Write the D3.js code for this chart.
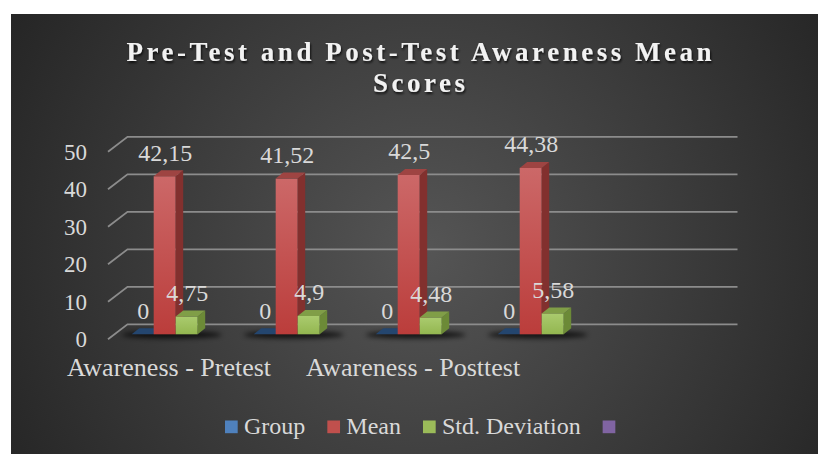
<!DOCTYPE html>
<html>
<head>
<meta charset="utf-8">
<script src="https://cdn.jsdelivr.net/npm/d3@7"></script>
<style>
  html, body { margin: 0; padding: 0; background: #fff; }
  svg { display: block; }
</style>
</head>
<body>
<script>
'use strict';

// chart data
const categories = ["Awareness - Pretest", "", "Awareness - Posttest", "", ""];
const seriesNames = ["Group", "Mean", "Std. Deviation", ""];
const seriesColors = ["#4f81bd", "#c0504d", "#9bbb59", "#8064a2"];
const groupValues = [0, 0, 0, 0];
const meanValues = [42.15, 41.52, 42.5, 44.38];
const sdValues = [4.75, 4.9, 4.48, 5.58];
const yTicks = [0, 10, 20, 30, 40, 50];
const titleLines = ["Pre-Test and Post-Test Awareness Mean", "Scores"];

const seriesValues = [groupValues, meanValues, sdValues];
const W = 818, H = 454;
const FONT = "'Liberation Serif', 'Times New Roman', serif";

// 3d offsets relative to the plane the bars stand on
const back = { dx: 13, dy: -10 };
const front = { dx: -6.5, dy: 5 };
const depth = { dx: 7.5, dy: -6 };

const svg = d3.select('body').append('svg')
  .attr('width', W)
  .attr('height', H);

const defs = svg.append('defs');

// background gradient
const bg = defs.append('radialGradient')
  .attr('id', 'bg')
  .attr('gradientUnits', 'userSpaceOnUse')
  .attr('cx', 425).attr('cy', 250).attr('r', 480);
bg.append('stop').attr('offset', '0%').attr('stop-color', '#555555');
bg.append('stop').attr('offset', '100%').attr('stop-color', '#252525');

// bar face gradients
const faces = [
  { id: 'blue', top: '#5a8ac4', bottom: '#3c6ea8', side: '#2d5180', cap: '#24466f' },
  { id: 'red', top: '#cc6868', bottom: '#bb3d3b', side: '#82302e', cap: '#9e4442' },
  { id: 'green', top: '#aacb6e', bottom: '#93b650', side: '#6c8a37', cap: '#809e47' }
];
faces.forEach((f) => {
  let g = defs.append('linearGradient')
    .attr('id', 'front-' + f.id)
    .attr('x1', 0).attr('y1', 0).attr('x2', 0).attr('y2', 1);
  g.append('stop').attr('offset', '0%').attr('stop-color', f.top);
  g.append('stop').attr('offset', '100%').attr('stop-color', f.bottom);
});

const shadow = defs.append('filter').attr('id', 'tshadow')
  .attr('x', '-10%').attr('y', '-30%').attr('width', '120%').attr('height', '160%');
shadow.append('feDropShadow')
  .attr('dx', 1).attr('dy', 2).attr('stdDeviation', 1.2)
  .attr('flood-color', '#000').attr('flood-opacity', 0.75);

const blur = defs.append('filter').attr('id', 'blur')
  .attr('x', '-20%').attr('y', '-200%').attr('width', '140%').attr('height', '500%');
blur.append('feGaussianBlur').attr('stdDeviation', 2.5);

// panel
svg.append('rect')
  .attr('x', 11).attr('y', 14)
  .attr('width', W - 11).attr('height', H - 14)
  .attr('fill', 'url(#bg)');

// scales
const y = d3.scaleLinear().domain([0, 50]).range([334.3, 146.8]);
const x = d3.scaleBand().domain(d3.range(categories.length)).range([114.5, 724.5]);
const xs = d3.scaleBand().domain(d3.range(seriesValues.length)).range([17.2, 83.2]);

// gridlines with side-wall diagonals
const x0 = x.range()[0], x1 = x.range()[1];
svg.append('g').selectAll('path')
  .data(yTicks)
  .enter()
  .append('path')
    .attr('d', (v) => 'M' + (x0 + front.dx) + ',' + (y(v) + front.dy) +
      'L' + (x0 + back.dx) + ',' + (y(v) + back.dy) +
      'L' + (x1 + back.dx) + ',' + (y(v) + back.dy))
    .attr('fill', 'none')
    .attr('stroke', '#8c8c8c')
    .attr('stroke-width', 1.8);

// y axis labels
const yAxis = svg.append('g')
  .attr('transform', 'translate(87,' + front.dy + ')')
  .call(d3.axisLeft(y).tickValues(yTicks).tickSize(0).tickPadding(0));
yAxis.select('.domain').remove();
yAxis.selectAll('text')
  .attr('fill', '#d9d9d9')
  .style('font-family', FONT)
  .style('font-size', '23px');

// category labels on the front edge
const xAxis = svg.append('g')
  .attr('transform', 'translate(' + front.dx + ',358)')
  .call(d3.axisBottom(x).tickSize(0).tickPadding(0).tickFormat((i) => categories[i]));
xAxis.select('.domain').remove();
xAxis.selectAll('text')
  .attr('fill', '#d9d9d9')
  .style('font-family', FONT)
  .style('font-size', '26px');

// shadows under each group
const nCat = meanValues.length;
svg.append('g').selectAll('ellipse')
  .data(d3.range(nCat))
  .enter()
  .append('ellipse')
    .attr('cx', (i) => x(i) + xs(0) + 40)
    .attr('cy', y(0) + 0.5)
    .attr('rx', 50)
    .attr('ry', 3.5)
    .attr('fill', '#000')
    .attr('opacity', 0.75)
    .attr('filter', 'url(#blur)');

// bars
const bw = xs.bandwidth();
const barsG = svg.append('g');
const labelsG = svg.append('g');
d3.range(nCat).forEach((i) => {
  seriesValues.forEach((vals, s) => {
    let v = vals[i];
    let f = faces[s];
    let xl = x(i) + xs(s);
    let top = y(v), bottom = y(0);
    let g = barsG.append('g');
    if (top < bottom - 0.5) {
      g.append('rect')
        .attr('x', xl).attr('y', top)
        .attr('width', bw).attr('height', bottom - top)
        .attr('fill', 'url(#front-' + f.id + ')');
      g.append('path')
        .attr('d', 'M' + (xl + bw) + ',' + top +
          'L' + (xl + bw + depth.dx) + ',' + (top + depth.dy) +
          'L' + (xl + bw + depth.dx) + ',' + (bottom + depth.dy) +
          'L' + (xl + bw) + ',' + bottom + 'Z')
        .attr('fill', f.side);
    }
    g.append('path')
      .attr('d', 'M' + xl + ',' + top +
        'L' + (xl + depth.dx) + ',' + (top + depth.dy) +
        'L' + (xl + bw + depth.dx) + ',' + (top + depth.dy) +
        'L' + (xl + bw) + ',' + top + 'Z')
      .attr('fill', f.cap);

    labelsG.append('text')
      .attr('x', xl + bw / 2 + 0.5)
      .attr('y', top - 15.5)
      .attr('text-anchor', 'middle')
      .attr('fill', '#d9d9d9')
      .style('font-family', FONT)
      .style('font-size', '24px')
      .text(String(v).replace('.', ','));
  });
});

// title
const titleG = svg.append('g').attr('filter', 'url(#tshadow)');
const titleTexts = titleG.selectAll('text')
  .data(titleLines)
  .enter()
  .append('text')
    .attr('x', 419)
    .attr('y', (d, i) => 60.7 + i * 31)
    .attr('text-anchor', 'middle')
    .attr('fill', '#f2f2f2')
    .style('font-family', FONT)
    .style('font-weight', 'bold')
    .style('font-size', '27px')
    .text((d) => d);
// spread letters so the first line is as wide as in the chart
let natural = titleTexts.nodes()[0].getComputedTextLength();
let ls = (585 - natural) / (titleLines[0].length - 1);
titleTexts.style('letter-spacing', ls + 'px')
  .attr('x', 419 + ls / 2);

// legend, starting at x = 225
const legend = svg.append('g');
let lx = 225;
seriesNames.forEach((name, s) => {
  legend.append('rect')
    .attr('x', lx).attr('y', 420.5)
    .attr('width', 12.7).attr('height', 12.7)
    .attr('fill', seriesColors[s]);
  let t = legend.append('text')
    .attr('x', lx + 19)
    .attr('y', 434)
    .attr('fill', '#d9d9d9')
    .style('font-family', FONT)
    .style('font-size', '24px')
    .text(name);
  lx += 19 + t.node().getComputedTextLength() + 22;
});
</script>
</body>
</html>
